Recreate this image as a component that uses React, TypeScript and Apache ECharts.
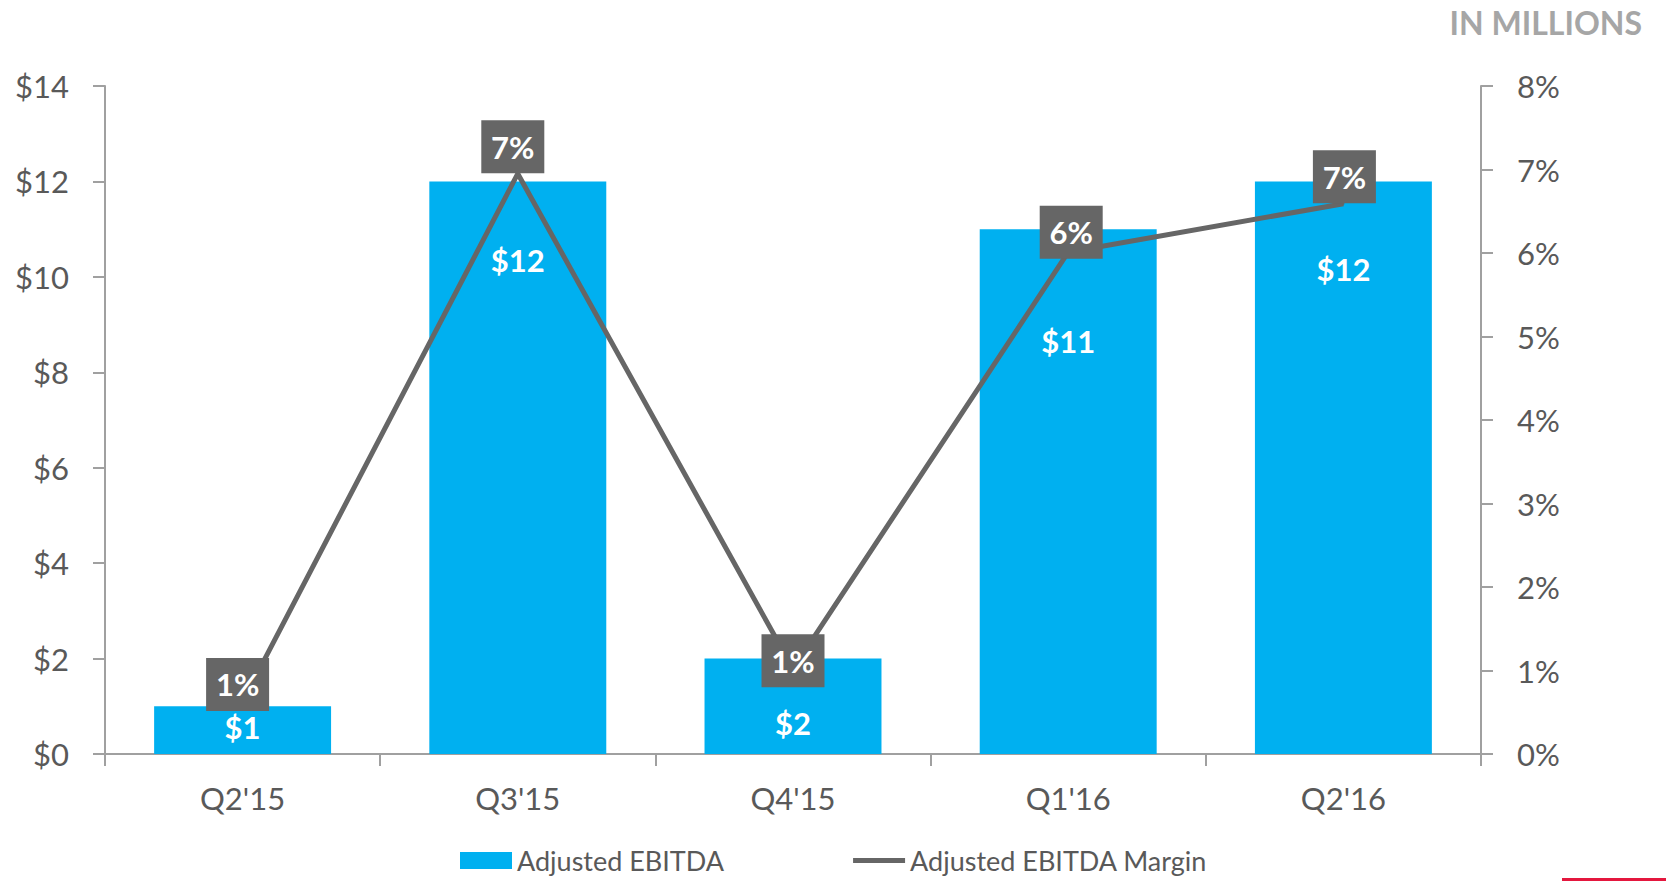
import React, { useEffect, useRef } from "react";
import * as echarts from "echarts";

const categories = ["Q2'15", "Q3'15", "Q4'15", "Q1'16", "Q2'16"];
const ebitda = [1, 12, 2, 11, 12];
const ebitdaMargin = [0.63, 6.95, 1.02, 6.01, 6.59];
const leftAxisRange = { min: 0, max: 14, interval: 2 };
const rightAxisRange = { min: 0, max: 8, interval: 1 };

// label placement styles (offsets, px)
const barLabelY = [21, 79, 64, 112, 88];
const lineLabelOffsets = [
  [-5, -17],
  [-5, -27],
  [0, -8],
  [3, -20],
  [1, -27],
];

const FONT = "Lato, 'Open Sans', sans-serif";
const AXIS_COLOR = "#a0a0a0";
const TEXT_COLOR = "#595959";

export default function App() {
  const ref = useRef<HTMLDivElement>(null);
  useEffect(() => {
    if (!ref.current) return;
    const chart = echarts.init(ref.current, null, { renderer: "svg" });
    const option: any = {
      animation: false,
      backgroundColor: "#ffffff",
      textStyle: { fontFamily: FONT },
      title: {
        text: "IN MILLIONS",
        right: 19,
        top: 1,
        textStyle: { fontFamily: FONT, fontWeight: "bold", fontSize: 32, color: "#a6a6a6" },
      },
      grid: { left: 105, right: 185, top: 86, bottom: 127 },
      legend: {
        left: 460,
        top: 847,
        padding: 0,
        itemWidth: 52,
        itemHeight: 17,
        itemGap: 129,
        symbolKeepAspect: true,
        textStyle: { fontFamily: FONT, fontSize: 27, color: TEXT_COLOR },
        data: [
          { name: "Adjusted EBITDA", icon: "rect" },
          {
            name: "Adjusted EBITDA Margin",
            icon: "path://M0,0 L52,0 L52,5 L0,5 Z",
            itemStyle: { color: "#666666" },
          },
        ],
      },
      xAxis: {
        type: "category",
        data: categories,
        axisLine: { lineStyle: { color: AXIS_COLOR, width: 2 } },
        axisTick: { show: true, length: 12, lineStyle: { color: AXIS_COLOR, width: 2 } },
        axisLabel: { margin: 28, fontSize: 31, color: TEXT_COLOR, fontFamily: FONT },
        splitLine: { show: false },
      },
      yAxis: [
        {
          type: "value",
          ...leftAxisRange,
          axisLine: { show: true, lineStyle: { color: AXIS_COLOR, width: 2 } },
          axisTick: { show: true, length: 12, lineStyle: { color: AXIS_COLOR, width: 2 } },
          axisLabel: {
            margin: 36,
            fontSize: 31,
            color: TEXT_COLOR,
            fontFamily: FONT,
            formatter: (v: number) => "$" + v,
          },
          splitLine: { show: false },
        },
        {
          type: "value",
          ...rightAxisRange,
          position: "right",
          axisLine: { show: true, lineStyle: { color: AXIS_COLOR, width: 2 } },
          axisTick: { show: true, length: 12, lineStyle: { color: AXIS_COLOR, width: 2 } },
          axisLabel: {
            margin: 36,
            fontSize: 31,
            color: TEXT_COLOR,
            fontFamily: FONT,
            formatter: (v: number) => v + "%",
          },
          splitLine: { show: false },
        },
      ],
      series: [
        {
          name: "Adjusted EBITDA",
          type: "bar",
          barWidth: "64.3%",
          itemStyle: { color: "#00b0f0" },
          data: ebitda.map((v, i) => ({
            value: v,
            label: { position: ["50%", barLabelY[i]] },
          })),
          label: {
            show: true,
            align: "center",
            verticalAlign: "middle",
            color: "#ffffff",
            fontWeight: "bold",
            fontSize: 31,
            fontFamily: FONT,
            formatter: (p: any) => "$" + p.value,
          },
          z: 2,
        },
        {
          name: "Adjusted EBITDA Margin",
          type: "line",
          yAxisIndex: 1,
          symbol: "circle",
          symbolSize: 2,
          showSymbol: true,
          lineStyle: { color: "#666666", width: 5 },
          itemStyle: { color: "#666666" },
          data: ebitdaMargin.map((v, i) => ({
            value: v,
            label: { offset: lineLabelOffsets[i] },
          })),
          label: {
            show: true,
            position: "inside",
            backgroundColor: "#666666",
            color: "#ffffff",
            fontWeight: "bold",
            fontSize: 31,
            fontFamily: FONT,
            width: 63,
            height: 53,
            lineHeight: 53,
            padding: 0,
            align: "center",
            verticalAlign: "middle",
            formatter: (p: any) => Math.round(p.value) + "%",
          },
          z: 3,
        },
      ],
      graphic: [
        {
          type: "rect",
          shape: { x: 1562, y: 878, width: 104, height: 3 },
          style: { fill: "#e4173e" },
        },
      ],
    };
    chart.setOption(option);
    return () => chart.dispose();
  }, []);
  return (
    <div
      ref={ref}
      style={{ position: "fixed", left: 0, top: 0, width: 1666, height: 881 }}
    />
  );
}
